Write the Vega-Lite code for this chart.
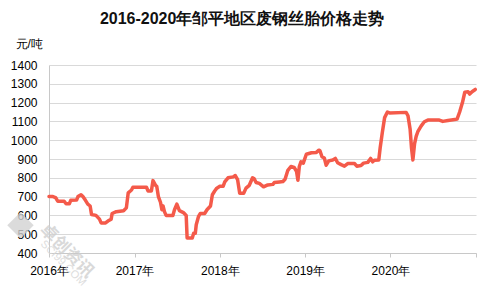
{
  "$schema": "https://vega.github.io/schema/vega-lite/v6.json",
  "width": 427,
  "height": 188,
  "autosize": {"type": "none"},
  "padding": {"left": 49, "top": 65, "right": 16, "bottom": 50},
  "background": "white",
  "title": {
    "text": "2016-2020年邹平地区废钢丝胎价格走势",
    "anchor": "middle",
    "frame": "bounds",
    "fontSize": 16,
    "fontWeight": "bold",
    "font": "Liberation Sans",
    "color": "#111111",
    "offset": 10
  },
  "config": {"view": {"stroke": null}, "font": "Liberation Sans"},
  "resolve": {"axis": {"x": "independent", "y": "independent"}},
  "datasets": {
    "prices": [
      {"date": "2016/01/01", "price": 700},
      {"date": "2016/01/18", "price": 700},
      {"date": "2016/01/29", "price": 695},
      {"date": "2016/02/08", "price": 675},
      {"date": "2016/03/06", "price": 675},
      {"date": "2016/03/14", "price": 662},
      {"date": "2016/03/28", "price": 662},
      {"date": "2016/04/03", "price": 680},
      {"date": "2016/04/28", "price": 682},
      {"date": "2016/05/04", "price": 700},
      {"date": "2016/05/17", "price": 710},
      {"date": "2016/05/25", "price": 700},
      {"date": "2016/06/05", "price": 680},
      {"date": "2016/06/15", "price": 660},
      {"date": "2016/06/25", "price": 650},
      {"date": "2016/07/01", "price": 605},
      {"date": "2016/07/20", "price": 600},
      {"date": "2016/08/04", "price": 580},
      {"date": "2016/08/11", "price": 560},
      {"date": "2016/08/30", "price": 560},
      {"date": "2016/09/09", "price": 570},
      {"date": "2016/09/23", "price": 580},
      {"date": "2016/09/27", "price": 610},
      {"date": "2016/10/15", "price": 620},
      {"date": "2016/11/15", "price": 625},
      {"date": "2016/11/27", "price": 640},
      {"date": "2016/12/05", "price": 720},
      {"date": "2016/12/19", "price": 735},
      {"date": "2016/12/25", "price": 750},
      {"date": "2017/02/21", "price": 750},
      {"date": "2017/02/28", "price": 730},
      {"date": "2017/03/14", "price": 730},
      {"date": "2017/03/21", "price": 785},
      {"date": "2017/04/01", "price": 760},
      {"date": "2017/04/06", "price": 755},
      {"date": "2017/04/13", "price": 700},
      {"date": "2017/04/22", "price": 670},
      {"date": "2017/04/28", "price": 630},
      {"date": "2017/05/03", "price": 650},
      {"date": "2017/05/09", "price": 620},
      {"date": "2017/05/16", "price": 600},
      {"date": "2017/06/14", "price": 600},
      {"date": "2017/06/21", "price": 630},
      {"date": "2017/07/01", "price": 660},
      {"date": "2017/07/12", "price": 625},
      {"date": "2017/07/29", "price": 615},
      {"date": "2017/08/10", "price": 600},
      {"date": "2017/08/14", "price": 480},
      {"date": "2017/09/05", "price": 480},
      {"date": "2017/09/11", "price": 505},
      {"date": "2017/09/18", "price": 505},
      {"date": "2017/09/22", "price": 550},
      {"date": "2017/10/02", "price": 595},
      {"date": "2017/10/09", "price": 610},
      {"date": "2017/10/28", "price": 610},
      {"date": "2017/11/07", "price": 630},
      {"date": "2017/11/22", "price": 650},
      {"date": "2017/11/30", "price": 710},
      {"date": "2017/12/10", "price": 730},
      {"date": "2017/12/19", "price": 745},
      {"date": "2018/01/01", "price": 755},
      {"date": "2018/01/15", "price": 755},
      {"date": "2018/01/22", "price": 778},
      {"date": "2018/02/05", "price": 800},
      {"date": "2018/02/27", "price": 805},
      {"date": "2018/03/08", "price": 812},
      {"date": "2018/03/18", "price": 790},
      {"date": "2018/03/27", "price": 718},
      {"date": "2018/04/13", "price": 718},
      {"date": "2018/04/23", "price": 745},
      {"date": "2018/05/07", "price": 760},
      {"date": "2018/05/21", "price": 800},
      {"date": "2018/05/28", "price": 795},
      {"date": "2018/06/05", "price": 775},
      {"date": "2018/06/19", "price": 770},
      {"date": "2018/07/07", "price": 752},
      {"date": "2018/07/25", "price": 762},
      {"date": "2018/08/16", "price": 765},
      {"date": "2018/08/22", "price": 775},
      {"date": "2018/09/13", "price": 778},
      {"date": "2018/09/28", "price": 780},
      {"date": "2018/10/07", "price": 792},
      {"date": "2018/10/19", "price": 840},
      {"date": "2018/11/01", "price": 860},
      {"date": "2018/11/15", "price": 855},
      {"date": "2018/11/25", "price": 835},
      {"date": "2018/12/01", "price": 787},
      {"date": "2018/12/07", "price": 860},
      {"date": "2018/12/14", "price": 885},
      {"date": "2018/12/24", "price": 878},
      {"date": "2019/01/06", "price": 925},
      {"date": "2019/01/28", "price": 933},
      {"date": "2019/02/18", "price": 935},
      {"date": "2019/03/01", "price": 947},
      {"date": "2019/03/05", "price": 945},
      {"date": "2019/03/14", "price": 912},
      {"date": "2019/03/24", "price": 905},
      {"date": "2019/04/01", "price": 867},
      {"date": "2019/04/12", "price": 890},
      {"date": "2019/04/29", "price": 895},
      {"date": "2019/05/10", "price": 903},
      {"date": "2019/05/20", "price": 880},
      {"date": "2019/06/04", "price": 870},
      {"date": "2019/06/18", "price": 862},
      {"date": "2019/07/02", "price": 876},
      {"date": "2019/07/31", "price": 876},
      {"date": "2019/08/10", "price": 862},
      {"date": "2019/08/28", "price": 865},
      {"date": "2019/09/08", "price": 878},
      {"date": "2019/09/26", "price": 882},
      {"date": "2019/10/08", "price": 903},
      {"date": "2019/10/17", "price": 885},
      {"date": "2019/10/24", "price": 893},
      {"date": "2019/11/12", "price": 895},
      {"date": "2019/11/18", "price": 960},
      {"date": "2019/11/27", "price": 1040},
      {"date": "2019/12/07", "price": 1120},
      {"date": "2019/12/19", "price": 1150},
      {"date": "2019/12/28", "price": 1145},
      {"date": "2020/03/08", "price": 1148},
      {"date": "2020/03/16", "price": 1130},
      {"date": "2020/03/25", "price": 1060},
      {"date": "2020/03/31", "price": 960},
      {"date": "2020/04/06", "price": 895},
      {"date": "2020/04/13", "price": 980},
      {"date": "2020/04/20", "price": 1020},
      {"date": "2020/04/27", "price": 1045},
      {"date": "2020/05/11", "price": 1075},
      {"date": "2020/05/25", "price": 1098},
      {"date": "2020/06/09", "price": 1107},
      {"date": "2020/07/28", "price": 1107},
      {"date": "2020/08/12", "price": 1100},
      {"date": "2020/09/03", "price": 1105},
      {"date": "2020/10/02", "price": 1110},
      {"date": "2020/10/12", "price": 1112},
      {"date": "2020/10/23", "price": 1150},
      {"date": "2020/11/04", "price": 1200},
      {"date": "2020/11/14", "price": 1255},
      {"date": "2020/11/28", "price": 1258},
      {"date": "2020/12/05", "price": 1245},
      {"date": "2020/12/15", "price": 1258},
      {"date": "2020/12/29", "price": 1270}
    ]
  },
  "layer": [
    {
      "data": {"name": "prices"},
      "mark": {"type": "line", "color": "#F45A4A", "strokeWidth": 3.5, "strokeJoin": "round", "strokeCap": "round"},
      "encoding": {
        "x": {
          "field": "date",
          "type": "temporal",
          "scale": {"domain": [{"year": 2016, "month": 1, "date": 1}, {"year": 2021, "month": 1, "date": 1}]},
          "axis": {
            "title": null,
            "values": [
              {"year": 2016, "month": 1, "date": 1},
              {"year": 2017, "month": 1, "date": 1},
              {"year": 2018, "month": 1, "date": 1},
              {"year": 2019, "month": 1, "date": 1},
              {"year": 2020, "month": 1, "date": 1},
              {"year": 2021, "month": 1, "date": 1}
            ],
            "labelExpr": "year(datum.value) >= 2021 ? '' : timeFormat(datum.value, '%Y') + '年'",
            "labelOverlap": false,
            "grid": false,
            "domainColor": "#c8c8c8",
            "tickColor": "#c8c8c8",
            "tickSize": 4,
            "labelPadding": 8,
            "labelFontSize": 12,
            "labelColor": "#000000",
            "labelFont": "Liberation Sans",
            "labelFlush": false
          }
        },
        "y": {
          "field": "price",
          "type": "quantitative",
          "scale": {"domain": [400, 1400], "nice": false, "zero": false},
          "axis": {
            "title": "元/吨",
            "titleAngle": 0,
            "titleAlign": "left",
            "titleBaseline": "middle",
            "titleX": -34,
            "titleY": -22,
            "titleFontSize": 12,
            "titleFontWeight": "normal",
            "titleColor": "#000000",
            "titleFont": "Liberation Sans",
            "values": [400, 500, 600, 700, 800, 900, 1000, 1100, 1200, 1300, 1400],
            "format": "d",
            "labelOverlap": false,
            "grid": true,
            "gridColor": "#d9d9d9",
            "domainColor": "#c8c8c8",
            "ticks": false,
            "tickSize": 0,
            "labelPadding": 12,
            "labelFontSize": 12,
            "labelColor": "#000000",
            "labelFont": "Liberation Sans"
          }
        }
      }
    },
    {
      "data": {"values": [{}]},
      "mark": {"type": "point", "shape": "diamond", "filled": true, "color": "#d2d2d2", "size": 700, "opacity": 0.8},
      "encoding": {
        "x": {"datum": {"year": 2015, "month": 9, "date": 1}, "type": "temporal", "axis": null},
        "y": {"datum": 547, "type": "quantitative", "axis": null}
      }
    },
    {
      "data": {"values": [{}]},
      "mark": {"type": "text", "text": "卓创资讯", "angle": 45, "font": "Noto Sans CJK SC", "fontWeight": "bold", "fontSize": 17, "color": "#d0d0d0", "opacity": 0.8, "align": "center", "baseline": "middle"},
      "encoding": {
        "x": {"datum": {"year": 2016, "month": 3, "date": 17}, "type": "temporal", "axis": null},
        "y": {"datum": 409, "type": "quantitative", "axis": null}
      }
    },
    {
      "data": {"values": [{}]},
      "mark": {"type": "text", "text": "SCI99.COM", "angle": 45, "font": "Liberation Sans", "fontSize": 11, "color": "#d6d6d6", "opacity": 0.8, "align": "center", "baseline": "middle"},
      "encoding": {
        "x": {"datum": {"year": 2016, "month": 3, "date": 1}, "type": "temporal", "axis": null},
        "y": {"datum": 345, "type": "quantitative", "axis": null}
      }
    }
  ]
}
